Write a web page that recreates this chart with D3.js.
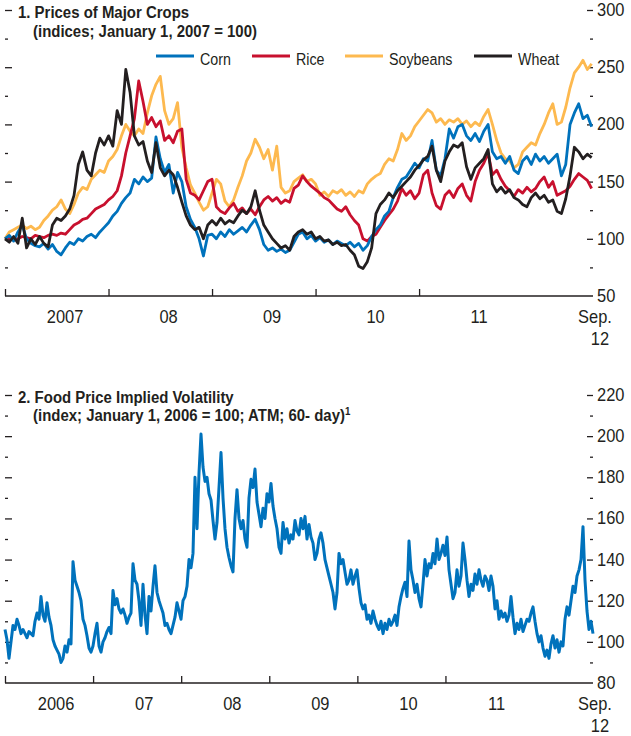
<!DOCTYPE html>
<html><head><meta charset="utf-8">
<script src="https://cdn.jsdelivr.net/npm/d3@7/dist/d3.min.js"></script>
<style>
body{margin:0;background:#fff}
text{font-family:"Liberation Sans",Arial,sans-serif;fill:#231f20}
</style>
</head><body><svg id="c" width="631" height="736"></svg>
<script>
// ---------- Panel 1 data: semi-monthly, starting Jan 2007 ----------
const cropStart = 2007;
const cropStepsPerYear = 24;
const cropSeriesNames = ["Corn","Rice","Soybeans","Wheat"];
const corn = [
100,103,98,106,112,100,96,94,93,96,
91,95,89,86,92,97,95,100,98,102,
104,101,106,110,114,120,124,131,136,140,
152,148,154,150,153,189,170,158,165,140,
158,150,128,117,110,100,85,103,104,100,
106,102,108,104,107,110,106,112,117,108,
95,90,92,89,91,88,90,97,104,106,
100,103,98,101,97,99,95,98,96,94,
97,93,96,90,94,102,108,112,120,124,
136,145,152,154,160,166,162,170,168,186,
160,155,170,196,188,198,200,190,186,192,
185,194,200,176,170,172,166,172,160,157,
168,172,165,174,168,172,166,170,174,155,
165,200,210,218,205,208,198];
const rice = [
100,101,99,100,102,101,100,103,102,101,
103,104,103,105,104,108,112,114,117,118,
122,126,128,130,134,137,142,155,175,190,
205,238,220,200,206,198,203,186,190,184,
194,196,152,140,138,134,142,150,152,128,
124,122,127,131,124,127,122,126,121,128,
134,137,133,136,131,134,132,144,147,155,
150,146,143,140,136,134,130,126,124,128,
121,116,112,100,98,102,104,110,116,121,
126,133,144,138,142,135,140,156,160,140,
129,126,138,142,136,144,148,138,133,150,
160,166,175,156,160,152,146,142,137,143,
140,145,141,144,150,154,145,150,138,140,
142,146,152,157,154,151,144];
const soybeans = [
100,106,108,110,112,109,111,108,110,116,
120,125,128,134,126,122,130,140,145,143,
152,156,160,158,168,172,178,190,200,194,
190,196,192,210,225,235,242,212,200,205,
219,180,162,147,140,132,125,128,140,152,
148,133,128,134,145,155,168,175,187,180,
170,178,160,181,145,140,142,150,153,156,
150,152,148,138,141,137,142,140,143,138,
141,137,142,140,148,152,155,157,165,170,
168,178,192,186,190,198,203,208,213,210,
202,205,200,204,202,205,200,203,198,202,
199,207,213,200,186,175,170,168,162,165,
176,180,184,182,192,200,210,218,200,202,
215,232,245,250,256,248,253];
const wheat = [
100,97,102,96,118,92,100,95,102,96,
93,112,118,116,120,126,138,165,176,160,
155,175,188,182,190,181,212,200,248,228,
190,182,185,168,158,184,162,155,160,156,
145,132,120,112,108,110,100,112,116,112,
118,113,116,114,120,125,122,128,142,125,
112,106,100,96,92,94,90,102,106,108,
104,106,100,102,98,99,95,97,94,95,
90,86,76,74,80,92,122,130,134,140,
136,142,146,150,154,160,164,169,172,181,
160,150,168,176,182,180,184,163,152,162,
166,170,178,148,141,145,140,143,136,134,
130,128,136,140,135,138,132,134,124,122,
135,155,180,176,170,174,171];
const cropYearLabels = ["2007","08","09","10","11"];
const cropYearValues = [2007,2008,2009,2010,2011];
const cropYTicks = [50,100,150,200,250,300];
const cropYMinor = [75,125,175,225,275];

// ---------- Panel 2 data: evenly spaced observations, Jan 2006 - Sep 2012 ----------
const volStart = 2006, volEnd = 2012.675;
const volatility = [
106,101,92,100,108,106,111,108,104,106,
104,102,105,104,103,110,114,111,122,113,
110,119,112,108,101,98,96,94,90,92,
98,95,101,99,139,130,127,124,120,111,
108,103,97,95,98,104,109,98,95,100,
102,105,107,104,125,118,121,116,114,116,
113,109,112,114,138,130,128,120,108,128,
113,104,122,115,127,137,124,120,117,114,
108,109,106,104,108,112,119,115,111,120,
122,127,140,136,143,180,155,182,201,185,
178,180,172,169,159,150,158,175,192,170,
155,146,141,137,134,160,174,160,155,159,
150,146,170,179,175,184,168,162,156,165,
160,172,168,177,166,160,155,146,143,158,
150,155,148,152,150,159,154,152,160,155,
161,150,157,151,148,140,143,150,153,148,
140,136,132,128,124,116,124,143,138,140,
134,128,130,135,128,132,135,126,119,116,
118,111,113,109,115,111,108,106,110,104,
109,106,111,108,110,113,108,117,122,126,
129,122,149,135,130,124,128,121,117,128,
140,132,138,136,143,138,150,140,143,147,
142,151,135,128,121,124,135,127,132,148,
140,130,122,128,125,133,128,135,130,127,
132,130,125,132,127,116,120,111,115,112,
114,110,113,122,112,104,109,106,111,105,
108,111,110,114,117,110,104,100,103,97,
93,96,92,99,103,97,101,95,100,98,
111,117,113,120,127,124,132,135,140,156,
130,115,106,110,104];
const volYearLabels = ["2006","07","08","09","10","11"];
const volYearValues = [2006,2007,2008,2009,2010,2011];
const volYTicks = [80,100,120,140,160,180,200,220];
const volYMinor = [90,110,130,150,170,190,210];

const colors = {Corn:"#0072bc", Rice:"#c8102e", Soybeans:"#fdb94f", Wheat:"#231f20"};
const svg = d3.select("#c");
const TICK_FS = 17.5, TICK_SX = 0.94;
const TITLE_FS = 17, TITLE_SX = 0.88;
const LEG_FS = 17, LEG_SX = 0.84;

function txt(parent, x, y, s, o){
  const t = parent.append("text")
    .attr("transform",`translate(${x},${y}) scale(${o.sx},1)`)
    .attr("font-size",o.size)
    .attr("font-weight",o.bold?"bold":"normal")
    .attr("text-anchor",o.anchor||"start");
  if (s!==null) t.text(s);
  return t;
}

function panel(opt){
  const g = svg.append("g");
  const x = d3.scaleLinear().domain(opt.xDomain).range([5,593]);
  const y = d3.scaleLinear().domain(opt.yDomain).range([opt.yBottom, opt.yTop]);
  const majorNoBase = opt.major.filter(v=>v!==opt.yDomain[0]);
  g.append("g").attr("class","ax").attr("transform","translate(5,0)")
    .call(d3.axisRight(y).tickValues(majorNoBase).tickSize(7).tickFormat(""));
  g.append("g").attr("class","ax").attr("transform","translate(5,0)")
    .call(d3.axisRight(y).tickValues(opt.minor).tickSize(3).tickFormat(""));
  g.append("g").attr("class","ax").attr("transform","translate(593,0)")
    .call(d3.axisLeft(y).tickValues(majorNoBase).tickSize(6).tickFormat(""));
  g.append("g").attr("class","ax").attr("transform","translate(593,0)")
    .call(d3.axisLeft(y).tickValues(opt.minor).tickSize(3).tickFormat(""));
  g.append("g").attr("class","ax").attr("transform",`translate(0,${opt.yBottom})`)
    .call(d3.axisTop(x).tickValues(opt.yearValues).tickSize(7).tickFormat(""));
  g.selectAll(".ax .domain").remove();
  g.selectAll(".ax .tick line").attr("stroke","#231f20").attr("stroke-width",1.3);
  g.append("line").attr("x1",x.range()[0]).attr("x2",x.range()[1])
    .attr("y1",opt.yBottom).attr("y2",opt.yBottom).attr("stroke","#231f20").attr("stroke-width",1.5);
  opt.major.forEach(v=>txt(g, 597, y(v)+6, String(v), {size:TICK_FS, sx:TICK_SX}));
  opt.yearLabels.forEach((s,i)=>txt(g, x(opt.yearValues[i]+0.58), opt.yBottom+27, s, {size:TICK_FS, sx:TICK_SX, anchor:"middle"}));
  txt(g, x.range()[1]+2, opt.yBottom+27, "Sep.", {size:TICK_FS, sx:TICK_SX, anchor:"middle"});
  txt(g, x.range()[1]+7, opt.yBottom+49, "12", {size:TICK_FS, sx:TICK_SX, anchor:"middle"});
  opt.series.forEach(s=>{
    const line = d3.line().x((d,i)=>x(s.t(i))).y(d=>y(d));
    g.append("path").datum(s.values).attr("d",line).attr("fill","none")
      .attr("stroke",s.color).attr("stroke-width",s.width).attr("stroke-linejoin","round");
  });
  return {g,x,y};
}

const cropT = i=>cropStart+i/cropStepsPerYear;
panel({
  xDomain:[2007,2012.68], yDomain:[50,300], yTop:10, yBottom:296,
  major:cropYTicks, minor:cropYMinor, yearValues:cropYearValues, yearLabels:cropYearLabels,
  series:[
    {values:soybeans,color:colors.Soybeans,t:cropT,width:2.8},
    {values:rice,color:colors.Rice,t:cropT,width:2.8},
    {values:corn,color:colors.Corn,t:cropT,width:2.8},
    {values:wheat,color:colors.Wheat,t:cropT,width:2.8}
  ]
});
txt(svg, 18, 18, "1. Prices of Major Crops", {size:TITLE_FS, sx:TITLE_SX, bold:true});
txt(svg, 33, 37, "(indices; January 1, 2007 = 100)", {size:TITLE_FS, sx:TITLE_SX, bold:true});

const legendX = [156,252,345,474];
cropSeriesNames.forEach((n,i)=>{
  svg.append("line").attr("x1",legendX[i]).attr("x2",legendX[i]+38).attr("y1",56).attr("y2",56)
    .attr("stroke",colors[n]).attr("stroke-width",3);
  txt(svg, legendX[i]+44, 65, n, {size:LEG_FS, sx:LEG_SX});
});

const volN = volatility.length;
panel({
  xDomain:[2006,2012.675], yDomain:[80,220], yTop:395, yBottom:683,
  major:volYTicks, minor:volYMinor, yearValues:volYearValues, yearLabels:volYearLabels,
  series:[{values:volatility,color:"#0072bc",t:i=>volStart+i*(volEnd-volStart)/(volN-1),width:3}]
});
txt(svg, 18, 403, "2. Food Price Implied Volatility", {size:TITLE_FS, sx:TITLE_SX, bold:true});
const t2 = txt(svg, 33, 421, null, {size:TITLE_FS, sx:TITLE_SX, bold:true});
t2.append("tspan").text("(index; January 1, 2006 = 100; ATM; 60- day)");
t2.append("tspan").attr("dy",-6).attr("font-size",11).text("1");
</script>
</body></html>
